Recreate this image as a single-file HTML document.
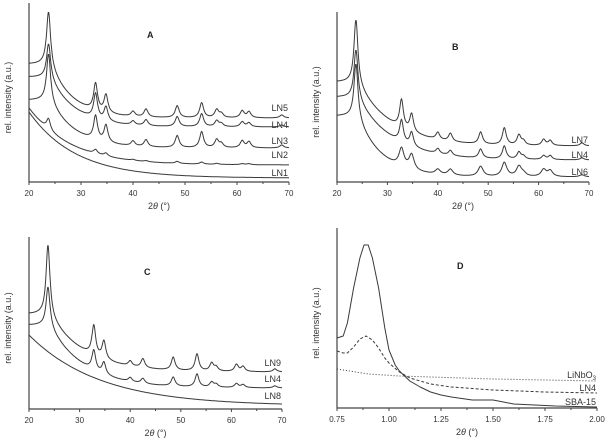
<!DOCTYPE html>
<html><head><meta charset="utf-8"><style>
body{margin:0;background:#fff;width:605px;height:442px;overflow:hidden}
svg{display:block;font-family:"Liberation Sans",sans-serif}
</style></head><body>
<svg id="fig" width="605" height="442" viewBox="0 0 605 442"></svg>
<script>
// ---- data ----
const peakPos = [32.8, 34.8, 40.0, 42.5, 48.5, 53.2, 56.1, 57.0, 61.0, 62.3, 68.6];
const ticksWide = [20, 30, 40, 50, 60, 70];
const ticksD = [0.75, 1.00, 1.25, 1.50, 1.75, 2.00];
// baseline params: [end, amp, tau, start], main peak height
const LN5 = {base:[64,54,4.5,24], main:52, peaks:[27,18,5,8,12,15,8,4,7,6,3]};
const LN4A = {base:[55,50,5,24], main:33, peaks:[25,14,4,6,10,13,6,3,5,4,2]};
const LN3 = {base:[34,48,5,24], main:46, peaks:[24,17,5,7,12,16,8,4,7,6,3]};
const LN2 = {base:[17,57,8,20], main:11, peaks:[4,3,1,1,2,2,1,0,1,1,0]};
const LN1 = {base:[4,66,9,20], main:0, peaks:[0,0,0,0,0,0,0,0,0,0,0]};
const LN7 = {base:[36,64,7,24], main:62, peaks:[28,18,7,8,12,17,10,4,6,5,3]};
const LN4B = {base:[22,63,7,24], main:47, peaks:[22,14,5,5,9,13,7,3,4,4,2]};
const LN6 = {base:[5,61,5,24], main:52, peaks:[18,15,5,6,10,14,10,3,7,6,2]};
const LN9 = {base:[37,58,7,24], main:69, peaks:[30,18,5,9,13,17,8,4,7,5,3]};
const LN4C = {base:[21,63,7,24], main:38, peaks:[20,12,4,5,9,13,5,3,4,3,2]};
const LN8 = {base:[3,71,14,20], main:0, peaks:[0,0,0,0,0,0,0,0,0,0,0]};
const dX = [0.75,0.78,0.80,0.83,0.86,0.88,0.90,0.92,0.95,0.98,1.00,1.03,1.05,1.10,1.15,1.20,1.25,1.30,1.40,1.45,1.50,1.55,1.60,1.70,1.80,1.90,2.00];
const dSBA = [70,72,85,120,150,163,163,150,120,80,58,43,37,27,21,16,13,11,8,8,8,6,4,3,2,1.5,1];
const dLN4X = [0.75,0.78,0.80,0.83,0.86,0.89,0.92,0.95,0.98,1.00,1.05,1.10,1.20,1.30,1.50,1.75,2.00];
const dLN4 = [57,55,55,61,69,72,68,60,50,45,36,30,24,21,18,16,15];
const dLiX = [0.75,0.90,1.05,1.50,2.00];
const dLi = [39,34,32,29,27];

const NS='http://www.w3.org/2000/svg';
const svg=document.getElementById('fig');
function mk(tag,attrs,parent){const e=document.createElementNS(NS,tag);for(const k in attrs)e.setAttribute(k,attrs[k]);(parent||svg).appendChild(e);return e;}

function intensity(s,x){
  const [end,amp,tau,st]=s.base;
  let v=end+amp*Math.exp(-Math.max(0,x-st)/tau);
  v+=s.main/(1+Math.pow((x-23.75)/0.45,2));
  const w = s===LN6?0.6:0.45;
  for(let i=0;i<peakPos.length;i++) v+=s.peaks[i]/(1+Math.pow((x-peakPos[i])/w,2));
  return v;
}

function panel(p){
  const g=mk('g',{});
  
  
  const xs=v=>p.x0+(v-p.d0)/(p.d1-p.d0)*(p.x1-p.x0);
  const ys=v=>p.bottom-v;
  const ax=mk('path',{d:`M${p.x0},${p.top}V${p.bottom}H${p.x1}`,stroke:'#444','stroke-width':1.2,fill:'none'},g);
  
  
  for(let i=0;i<p.ticks.length;i++){
    const t=p.ticks[i];
    mk('line',{x1:xs(t),x2:xs(t),y1:p.bottom,y2:p.bottom+3,stroke:'#444'},g);
    if(i<p.ticks.length-1){const m=(t+p.ticks[i+1])/2;mk('line',{x1:xs(m),x2:xs(m),y1:p.bottom,y2:p.bottom+2,stroke:'#444'},g);}
    const tl=mk('text',{x:xs(t),y:p.bottom+14,'font-size':8,'text-anchor':'middle',fill:'#333'},g);
    tl.textContent=p.fmt(t);
    
    
  }
  const xt=mk('text',{x:(p.x0+p.x1)/2,y:p.bottom+27,'font-size':9,'text-anchor':'middle',fill:'#333'},g);
  xt.innerHTML='2<tspan font-style="italic">θ</tspan> (°)';
  
  
  const yt=mk('text',{x:0,y:0,'font-size':9,'text-anchor':'middle',fill:'#333',transform:`translate(${p.x0-18},${(p.top+p.bottom)/2+5}) rotate(-90)`},g);
  yt.textContent='rel. intensity (a.u.)';
  
  
  const pl=mk('text',{x:p.lx,y:p.ly,'font-size':9,'font-weight':'bold',fill:'#222'},g);
  pl.textContent=p.id;
  
  
  p.series.forEach(s=>{
    let d='';
    if(s.fx){s.fx.forEach((x,i)=>{d+=(i?'L':'M')+xs(x).toFixed(1)+','+ys(s.fy[i]).toFixed(1);});}
    else{let first=true;for(let x=20;x<=70.001;x+=0.1){d+=(first?'M':'L')+xs(x).toFixed(1)+','+ys(intensity(s.s,x)).toFixed(1);first=false;}}
    const path=mk('path',{d:d,fill:'none',stroke:'#3a3a3a','stroke-width':s.sw||1,'stroke-dasharray':s.dash||'none','stroke-linejoin':'round'},g);
    
    
    const t=mk('text',{x:p.x1-1,y:s.ly,'font-size':9,'text-anchor':'end',fill:'#333'},g);
    t.innerHTML=s.label||s.name;
    
    
  });
}
const f0=t=>String(t), f2=t=>t.toFixed(2);
panel({id:'A',x0:29,x1:289,d0:20,d1:70,top:3,bottom:182,ticks:ticksWide,fmt:f0,lx:147,ly:38,
  series:[{name:'LN5',s:LN5,ly:111},{name:'LN4',s:LN4A,ly:128},{name:'LN3',s:LN3,ly:144},{name:'LN2',s:LN2,ly:158},{name:'LN1',s:LN1,ly:176}]});
panel({id:'B',x0:337,x1:589,d0:20,d1:70,top:12,bottom:182,ticks:ticksWide,fmt:f0,lx:452,ly:50,
  series:[{name:'LN7',s:LN7,ly:143},{name:'LN4',s:LN4B,ly:158},{name:'LN6',s:LN6,ly:175}]});
panel({id:'C',x0:29,x1:282,d0:20,d1:70,top:237,bottom:409,ticks:ticksWide,fmt:f0,lx:144,ly:275,
  series:[{name:'LN9',s:LN9,ly:366},{name:'LN4',s:LN4C,ly:382},{name:'LN8',s:LN8,ly:399}]});
panel({id:'D',x0:337,x1:597,d0:0.75,d1:2.0,top:228,bottom:408,ticks:ticksD,fmt:f2,lx:457,ly:269,
  series:[{name:'LiNbO3',label:'LiNbO<tspan font-size="6" dy="2">3</tspan>',fx:dLiX,fy:dLi,dash:'1,2',ly:378},
          {name:'LN4-d',label:'LN4',fx:dLN4X,fy:dLN4,dash:'3,2',ly:391},
          {name:'SBA-15',fx:dX,fy:dSBA,ly:405}]});
</script>
</body></html>
